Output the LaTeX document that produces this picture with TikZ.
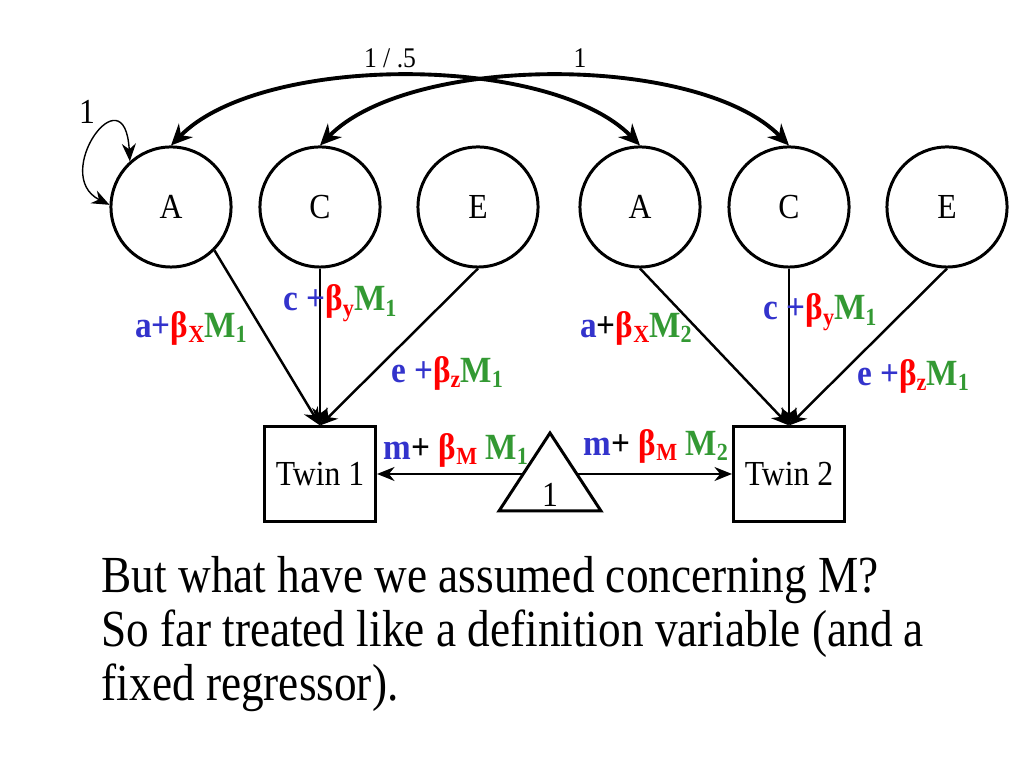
\documentclass[tikz,border=0pt]{standalone}
\usepackage{fontspec}
\setmainfont{Liberation Serif}[FakeStretch=0.9]
\newfontfamily\notefont{Liberation Serif}[FakeStretch=0.87]
\usetikzlibrary{arrows.meta}

\definecolor{parblue}{RGB}{51,51,204}
\definecolor{parred}{RGB}{255,0,0}
\definecolor{pargreen}{RGB}{51,153,51}

\newcommand{\lo}[1]{\raisebox{-0.35ex}{\fontsize{7}{8}\selectfont #1}}
\newcommand{\pa}[1]{\textcolor{parblue}{#1}}
\newcommand{\bx}[1]{\textcolor{parred}{β\lo{#1}}}
\newcommand{\mv}[1]{\textcolor{pargreen}{M\lo{#1}}}

\begin{document}
\begin{tikzpicture}[x=0.01cm,y=-0.01cm,>={Stealth[length=5pt,width=4.5pt]},
        latent/.style={draw,circle,line width=0.85pt,minimum size=1.2cm,inner sep=0pt,font=\fontsize{10}{12}\selectfont},
        observed/.style={draw,rectangle,line width=0.85pt,minimum width=1.11cm,minimum height=0.94cm,inner sep=0pt,font=\fontsize{10}{12}\selectfont},
        load/.style={line width=0.7pt},
        corr/.style={line width=1.1pt,>={Stealth[length=6pt,width=5.5pt]}},
        selfvar/.style={line width=0.4pt,>={Stealth[length=5pt,width=4pt]}},
        meanline/.style={line width=0.45pt,>={Stealth[length=5pt,width=4pt]}},
        coef/.style={font=\fontsize{10.5}{12}\selectfont\bfseries,inner sep=0pt},
        num/.style={inner sep=0pt}]
        \useasboundingbox (0,0) rectangle (1024,768);

        % latent factors, twin 1 and twin 2
        \node (A1) at (171,207) [latent] {A};
        \node (C1) at (320,207) [latent] {C};
        \node (E1) at (478,207) [latent] {E};
        \node (A2) at (640,207) [latent] {A};
        \node (C2) at (789,207) [latent] {C};
        \node (E2) at (947,207) [latent] {E};

        % observed phenotypes
        \node (T1) at (320,474) [observed] {Twin 1};
        \node (T2) at (789,474) [observed] {Twin 2};

        % mean triangle
        \draw[line width=0.85pt] (550,433) -- (601,511) -- (499,511) -- cycle;
        \node (one) at (550,495) [num,font=\fontsize{10}{12}\selectfont] {1};
        \coordinate (meanL) at (523,474);
        \coordinate (meanR) at (577,474);

        \draw[->,meanline] (meanL) -- (T1);
        \draw[->,meanline] (meanR) -- (T2);

        % paths
        \draw[->,load] (A1.south east) -- (T1.north);
        \draw[->,load] (C1.south) -- (T1.north);
        \draw[->,load] (E1.south) -- (T1.north);
        \draw[->,load] (A2.south) -- (T2.north);
        \draw[->,load] (C2.south) -- (T2.north);
        \draw[->,load] (E2.south) -- (T2.north);

        % covariances between twins
        \draw[<->,corr] (A1.north) .. controls +(90,-92) and +(-90,-92) .. (A2.north);
        \draw[<->,corr] (C1.north) .. controls +(90,-92) and +(-90,-92) .. (C2.north);
        \draw[<->,selfvar] (A1.178) .. controls (50,175) and (125,70) .. (A1.132);

        \node (rA) at (390,58)  [num,font=\fontsize{8.1}{10}\selectfont] {1 / .5};
        \node (rC) at (580,58)  [num,font=\fontsize{8.1}{10}\selectfont] {1};
        \node (vA) at (87,112)  [num,font=\fontsize{10}{12}\selectfont] {1};

        % path labels
        \node (lA1) at (191,328) [coef] {\pa{a+}\bx{X}\mv{1}};
        \node (lC1) at (340,303) [coef] {\pa{c +}\bx{y}\mv{1}};
        \node (lE1) at (447,373) [coef] {\pa{e +}\bx{z}\mv{1}};
        \node (lA2) at (636,328) [coef] {\pa{a}+\bx{X}\mv{2}};
        \node (lC2) at (820,312) [coef] {\pa{c +}\bx{y}\mv{1}};
        \node (lE2) at (913,376) [coef] {\pa{e +}\bx{z}\mv{1}};
        \node (lM1) at (456,450) [coef] {\pa{m}+ \bx{M} \mv{1}};
        \node (lM2) at (656,446) [coef] {\pa{m}+ \bx{M} \mv{2}};

        % question
        \node (note) at (101,701) [anchor=base west,align=left,inner sep=0pt,
              font=\notefont\fontsize{14.8}{15.4}\selectfont]
              {But what have we assumed concerning M?\\
               So far treated like a definition variable (and a\\
               fixed regressor).};
\end{tikzpicture}
\end{document}
